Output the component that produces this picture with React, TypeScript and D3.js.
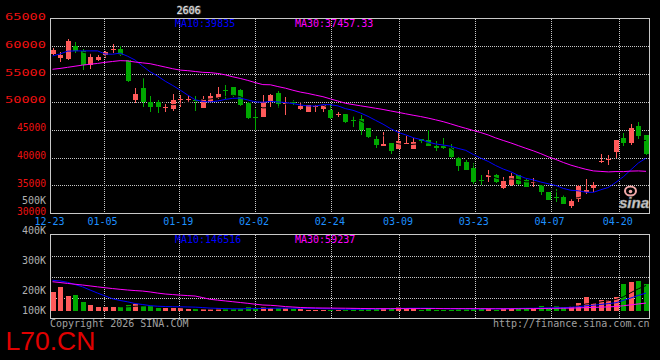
import React from 'react';
import * as d3 from 'd3';

// ---- data ----
const dateLabels = ['12-23', '01-05', '01-19', '02-02', '02-24', '03-09', '03-23', '04-07', '04-20'];
const dateIndex = [0, 7, 17, 27, 37, 46, 56, 66, 75];

const openP = [58600, 57950, 57700, 60100, 59050, 56700, 57600, 58450, 59300, 59500,
  57500, 50400, 52500, 49950, 50000, 48850, 48650, 50300, 50400, 50300,
  48900, 49950, 50650, 52150, 52650, 52050, 49800, 47300, 47300, 50000,
  51600, 49550, 49900, 48750, 48150, 49050, 48750, 48500, 47600, 47750,
  46800, 46850, 45250, 43400, 42100, 42550, 41600, 42500, 41600, 43250,
  43150, 42100, 42100, 41700, 40000, 39250, 38200, 36050, 36550, 36850,
  34500, 35050, 36850, 36000, 35550, 35050, 33750, 32900, 33000, 31250,
  32550, 33750, 34600, 39350, 39700, 41000, 43550, 42550, 45750, 44000];
const highP = [59600, 58900, 61200, 60800, 59500, 58700, 58500, 59200, 60400, 60000,
  57600, 52500, 54500, 51100, 50400, 49550, 51450, 51300, 51000, 51000,
  51000, 51600, 52650, 53050, 52700, 52300, 49900, 48650, 51200, 51350,
  52000, 50900, 50300, 49800, 49500, 49520, 49700, 49550, 48200, 47800,
  47450, 47620, 45300, 43850, 44600, 42600, 44950, 43850, 43550, 43400,
  44950, 43000, 43450, 42400, 40050, 39600, 39000, 36850, 37800, 37050,
  36450, 37200, 36900, 36100, 36250, 35150, 33900, 34350, 33250, 32550,
  35000, 36150, 35650, 40600, 40400, 43150, 44450, 45950, 46450, 44050];
const lowP = [58400, 57150, 57500, 58750, 55650, 55900, 57300, 57800, 58800, 58300,
  53600, 49800, 49000, 48100, 48050, 48250, 48300, 49050, 49950, 48350,
  48850, 49900, 50550, 50550, 50900, 49200, 46950, 45000, 47200, 49100,
  48950, 47650, 49350, 48500, 48100, 48150, 48200, 46950, 47250, 46200,
  45500, 44050, 43600, 41800, 42050, 40700, 41500, 42350, 41500, 42500,
  42000, 41200, 41600, 39950, 37600, 37700, 35250, 35050, 35650, 35450,
  34400, 34950, 35150, 34700, 34800, 33350, 32400, 32100, 31600, 30900,
  31950, 33400, 33850, 39000, 38700, 40000, 42100, 42250, 43250, 40550];
const closeP = [59400, 58400, 60900, 59200, 56700, 58100, 58100, 58900, 59450, 58450,
  53700, 51500, 49950, 49050, 49050, 49000, 50400, 50550, 50550, 49950,
  50550, 51000, 51450, 51900, 51000, 49400, 47050, 47100, 50050, 51300,
  49650, 49850, 49750, 49250, 49350, 49200, 49500, 47050, 47850, 46450,
  46650, 44950, 43700, 42200, 42400, 41200, 42900, 42600, 42800, 42950,
  42100, 41650, 41700, 40050, 38500, 37800, 35550, 35950, 36850, 35550,
  35850, 36750, 35250, 34800, 35700, 33850, 32450, 32800, 31650, 32200,
  34950, 34200, 35050, 39450, 39800, 43100, 42550, 45350, 43850, 40600];
const volumeK = [167, 211, 132, 138, 79, 50, 35, 29, 29, 29,
  50, 59, 44, 41, 26, 26, 21, 21, 12, 12,
  12, 12, 23, 21, 12, 21, 32, 21, 32, 26,
  21, 21, 15, 12, 10, 10, 8, 10, 10, 8,
  23, 23, 23, 23, 23, 23, 32, 20, 20, 8,
  23, 8, 8, 10, 23, 20, 23, 23, 23, 10,
  23, 23, 23, 23, 23, 41, 29, 41, 29, 41,
  67, 120, 67, 94, 94, 120, 238, 252, 261, 238];

// moving-average values before a full window is available
const ma10Head = [58250, 58600, 59100, 59150, 59150, 59150, 59150, 58600, 58550];
const ma30Head = [55850, 56000, 56200, 56400, 56600, 56750, 56900, 57100, 57250, 57400,
  57350, 57150, 57000, 56850, 56550, 56250, 55950, 55700, 55600, 55450,
  55300, 55250, 55100, 54850, 54500, 54200, 53850, 53450, 53100];
const volMa10HeadK = [268, 262, 250, 230, 210, 182, 155, 130, 105];
const volMa30HeadK = [255, 248, 240, 233, 226, 218, 210, 202, 195, 188,
  182, 177, 173, 165, 155, 147, 142, 137, 133, 129,
  115, 100, 93, 86, 79, 72, 65, 57, 50];

const priceTicks = [65000, 60000, 55000, 50000, 45000, 40000, 35000, 30000];
const volTickValues = [500000, 400000, 300000, 200000, 100000];
const volTickLabels = ['500K', '400K', '300K', '200K', '100K'];

const titleText = '2606';
const maLegend = ['MA10:39835', 'MA30:37457.33'];
const volLegend = ['MA10:146516', 'MA30:59237'];

// ---- helpers ----
function movingAvg(vals: number[], n: number, head: (number | null)[]): (number | null)[] {
  return vals.map((_, i) => {
    if (i < n - 1) return head[i] ?? null;
    let s = 0;
    for (let k = i - n + 1; k <= i; k++) s += vals[k];
    return s / n;
  });
}

const RED = '#ff5a5a';
const GREEN = '#00a800';
const GRID = '#c8c8c8';

export default function App() {
  const n = closeP.length;
  const volume = volumeK.map((v) => v * 1000);
  const L = 50, R = 649.5, T = 18.5, B = 213.5;
  const VT = 234.5, VB = 318.5;

  const xC = d3.scaleLinear().domain([0, n - 1]).range([52.5, 646]);
  const xG = d3.scaleLinear().domain([0, n - 1]).range([51, 649.6]);
  const y = d3.scaleLinear().domain([30000, 65000]).range([213.3, 18.3]);
  const yV = d3.scaleLinear().domain([0, 100000]).range([310.7, 310.7 - 11.36]);
  const yVLabel = d3.scaleLinear().domain([500000, 200000]).range([204, 293.5]);

  const ma10 = movingAvg(closeP, 10, ma10Head);
  const ma30 = movingAvg(closeP, 30, ma30Head);
  const ma5 = movingAvg(closeP, 5, []);
  const vma10 = movingAvg(volume, 10, volMa10HeadK.map((v) => v * 1000));
  const vma30 = movingAvg(volume, 30, volMa30HeadK.map((v) => v * 1000));
  const vma5 = movingAvg(volume, 5, []);

  const linePrice = d3.line<number | null>()
    .defined((d) => d !== null)
    .x((_, i) => xC(i))
    .y((d) => y(d as number));
  const lineVol = d3.line<number | null>()
    .defined((d) => d !== null)
    .x((_, i) => xC(i))
    .y((d) => yV(d as number));

  const mono = "'DejaVu Sans Mono', 'Liberation Mono', monospace";
  const crisp = (v: number) => Math.round(v) + 0.5;

  const gridX = dateIndex.slice(1).map((i) => crisp(xG(i) - 0.5));
  const vGridY = [1, 2, 3].map((k) => crisp(VT + (VB - VT) * k / 4));

  return (
    <svg width={660} height={360} style={{ position: 'absolute', left: 0, top: 0, background: '#000' }}
      fontFamily={mono}>
      <defs>
        <clipPath id="mainClip"><rect x={L} y={T} width={R - L} height={B - T} /></clipPath>
        <clipPath id="volClip"><rect x={L} y={VT} width={R - L} height={VB - VT} /></clipPath>
      </defs>
      <rect x={0} y={0} width={660} height={360} fill="#000" />

      {/* title */}
      <text x={177} y={14} fontSize={10} fill="#555" stroke="#555" strokeWidth={1.2}>{titleText}</text>
      <text x={176.5} y={13.5} fontSize={10} fill="#e0e0e0">{titleText}</text>

      {/* main grid */}
      <g stroke={GRID} strokeWidth={1} strokeDasharray="1,1" shapeRendering="crispEdges">
        {priceTicks.slice(1, -1).map((p) => (
          <line key={p} x1={L} x2={R} y1={crisp(y(p))} y2={crisp(y(p))} />
        ))}
        {gridX.map((gx, k) => (
          <line key={'m' + k} x1={gx} x2={gx} y1={T} y2={B} />
        ))}
        {vGridY.map((gy, k) => (
          <line key={'vh' + k} x1={L} x2={R} y1={gy} y2={gy} />
        ))}
        {gridX.map((gx, k) => (
          <line key={'v' + k} x1={gx} x2={gx} y1={VT} y2={VB} />
        ))}
      </g>

      {/* candles */}
      <g clipPath="url(#mainClip)" shapeRendering="crispEdges">
        {closeP.map((c, i) => {
          const o = openP[i];
          const up = c >= o;
          const col = up ? RED : GREEN;
          const cx = Math.round(xC(i));
          const yTop = y(Math.max(o, c));
          const yBot = y(Math.min(o, c));
          const h = Math.max(1, yBot - yTop);
          return (
            <g key={i}>
              <line x1={cx + 0.5} x2={cx + 0.5} y1={y(highP[i])} y2={y(lowP[i])} stroke={col} />
              <rect x={cx - 2} y={yTop} width={5} height={h} fill={col} />
            </g>
          );
        })}
      </g>
      <g clipPath="url(#mainClip)" fill="none" strokeWidth={1}>
        <path d={linePrice(ma5) || ''} stroke="#000" />
        <path d={linePrice(ma10) || ''} stroke="#0000ff" />
        <path d={linePrice(ma30) || ''} stroke="#ff00ff" />
      </g>

      {/* sina logo */}
      <g>
        <ellipse cx={630.5} cy={191} rx={5.5} ry={4.5} fill="none" stroke="#f2a8a8" strokeWidth={2} />
        <circle cx={630.5} cy={191.5} r={1.8} fill="#f2a8a8" />
        <text x={619} y={208} fontFamily="'Liberation Sans', Arial, sans-serif" fontStyle="italic"
          fontWeight="bold" fontSize={15} fill="#d4d4d4" stroke="#888" strokeWidth={0.6}>sina</text>
      </g>

      {/* main legend */}
      <text x={175} y={27} fontSize={10} fill="#0000ff">{maLegend[0]}</text>
      <text x={295} y={27} fontSize={10} fill="#ff00ff">{maLegend[1]}</text>

      {/* main border */}
      <rect x={L} y={T} width={R - L} height={B - T} fill="none" stroke={GRID} shapeRendering="crispEdges" />

      {/* price labels */}
      {priceTicks.map((p) => {
        const wide = p >= 50000;
        const tl = wide ? 41 : 29;
        return (
          <text key={p} x={46 - tl} y={y(p) + 1.5} fontSize={wide ? 9 : 10} fill="#ee1111"
            textLength={tl} lengthAdjust="spacingAndGlyphs">{String(p)}</text>
        );
      })}

      {/* date labels */}
      {dateLabels.map((d, k) => (
        <text key={d} x={xG(dateIndex[k]) - 1.5} y={225} fontSize={10} fill="#1e90ff" textAnchor="middle">{d}</text>
      ))}

      {/* volume bars */}
      <g clipPath="url(#volClip)" shapeRendering="crispEdges">
        {volume.map((v, i) => {
          const up = closeP[i] >= openP[i];
          const cx = Math.round(xC(i));
          const yt = yV(v);
          return <rect key={i} x={cx - 2} y={yt} width={5} height={Math.max(0, yV(0) - yt)} fill={up ? RED : GREEN} />;
        })}
      </g>
      <g clipPath="url(#volClip)" fill="none" strokeWidth={1}>
        <path d={lineVol(vma5) || ''} stroke="#000" />
        <path d={lineVol(vma10) || ''} stroke="#0000ff" />
        <path d={lineVol(vma30) || ''} stroke="#ff00ff" />
      </g>
      <rect x={L} y={VT} width={R - L} height={VB - VT} fill="none" stroke={GRID} shapeRendering="crispEdges" />
      <text x={175} y={242.5} fontSize={10} fill="#0000ff">{volLegend[0]}</text>
      <text x={295} y={242.5} fontSize={10} fill="#ff00ff">{volLegend[1]}</text>

      {/* volume labels */}
      {volTickValues.map((v, k) => (
        <text key={v} x={46} y={Math.min(313.5, yVLabel(v))} fontSize={10} fill="#b0b0b0" textAnchor="end">{volTickLabels[k]}</text>
      ))}

      {/* footer */}
      <text x={50} y={327} fontSize={10} fill="#a0a0a0">Copyright 2026 SINA.COM</text>
      <text x={649.5} y={327} fontSize={10} fill="#a0a0a0" textAnchor="end">http://finance.sina.com.cn</text>
      <text x={5.5} y={349.5} fontFamily="'Liberation Sans', Arial, sans-serif" fontSize={26.5} fill="#e00000">L70.CN</text>
    </svg>
  );
}
